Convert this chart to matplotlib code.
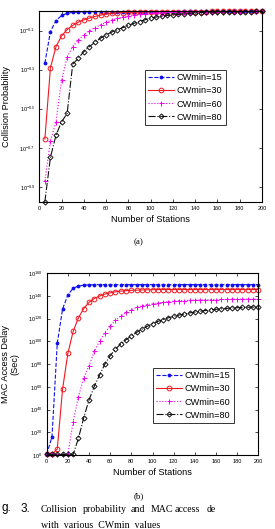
#imports all required libs
import numpy as np
import matplotlib
matplotlib.use('Agg')
import matplotlib.pyplot as plt
from matplotlib.ticker import FixedLocator, NullLocator, FixedFormatter

plt.rcParams['font.family'] = ['Liberation Sans', 'DejaVu Sans']
plt.rcParams['mathtext.fontset'] = 'custom'
plt.rcParams['mathtext.rm'] = 'Liberation Sans'
plt.rcParams['mathtext.it'] = 'Liberation Sans'

#data for (a): exponents, x = 5..200
stations_a = np.arange(5, 201, 5)
cw15_a = [-0.267, -0.105, -0.049, -0.023, -0.012, -0.007, -0.005, -0.004, -0.004, -0.003,
          -0.003, -0.003, -0.003, -0.003, -0.003, -0.003, -0.003, -0.003, -0.003, -0.003,
          -0.003, -0.003, -0.003, -0.003, -0.003, -0.002, -0.002, -0.002, -0.002, -0.002,
          -0.002, -0.002, -0.002, -0.002, -0.002, -0.002, -0.002, -0.002, -0.002, -0.002]
cw30_a = [-0.655, -0.290, -0.182, -0.128, -0.095, -0.074, -0.057, -0.045, -0.036, -0.028,
          -0.021, -0.016, -0.012, -0.010, -0.008, -0.007, -0.006, -0.005, -0.005, -0.004,
          -0.004, -0.004, -0.004, -0.003, -0.003, -0.003, -0.003, -0.003, -0.003, -0.003,
          -0.002, -0.002, -0.002, -0.002, -0.002, -0.002, -0.002, -0.002, -0.002, -0.002]
cw60_a = [-0.871, -0.664, -0.567, -0.355, -0.236, -0.182, -0.150, -0.122, -0.102, -0.085,
          -0.071, -0.058, -0.047, -0.038, -0.030, -0.024, -0.019, -0.016, -0.013, -0.011,
          -0.009, -0.008, -0.007, -0.006, -0.005, -0.005, -0.004, -0.004, -0.003, -0.003,
          -0.003, -0.003, -0.003, -0.002, -0.002, -0.002, -0.002, -0.002, -0.002, -0.002]
cw80_a = [-0.975, -0.749, -0.635, -0.567, -0.524, -0.272, -0.242, -0.208, -0.182, -0.160,
          -0.139, -0.122, -0.108, -0.096, -0.085, -0.074, -0.063, -0.054, -0.045, -0.036,
          -0.031, -0.027, -0.023, -0.020, -0.017, -0.014, -0.012, -0.010, -0.008, -0.007,
          -0.006, -0.005, -0.005, -0.004, -0.004, -0.003, -0.003, -0.003, -0.002, -0.002]

#data for (b): exponents of the delay, x = 0..200
stations_b = np.arange(0, 201, 5)
cw15_b = [0.5, 16.0, 98.5, 128.5, 141.0, 146.8, 148.8, 149.5, 149.8] + [150.0] * 32
cw30_b = [0.5, 0.5, 5.3, 58.0, 89.5, 108.8, 120.8, 129.0, 134.4, 137.8,
          140.0, 141.7, 142.8, 143.7, 144.3, 144.7, 145.0, 145.2, 145.4, 145.5,
          145.6] + [145.7] * 20
cw60_b = [0.5, 0.5, 0.5, 0.5, 0.5, 29.3, 51.3, 68.0, 78.5, 91.3,
          100.3, 107.8, 113.6, 118.5, 122.4, 125.5, 128.0, 129.9, 131.3, 132.4,
          133.2, 133.9, 134.5, 135.0, 135.4, 135.7, 136.0, 136.2, 136.4, 136.6,
          136.7, 136.8, 136.9, 137.0, 137.0, 137.1, 137.1, 137.2, 137.2, 137.2, 137.2]
cw80_b = [0.5, 0.5, 0.5, 0.5, 0.5, 0.5, 14.7, 32.9, 48.5, 60.5,
          70.5, 80.0, 87.5, 93.2, 97.8, 101.5, 104.9, 107.9, 110.7, 113.3,
          115.6, 117.6, 119.3, 120.8, 122.1, 123.2, 124.2, 125.1, 125.9, 126.6,
          127.2, 127.8, 128.3, 128.7, 129.1, 129.4, 129.7, 129.9, 130.1, 130.2, 130.3]

labels = ['CWmin=15', 'CWmin=30', 'CWmin=60', 'CWmin=80']
ticks_a = [-0.9, -0.7, -0.5, -0.3, -0.1]
ticks_b = [0, 20, 40, 60, 80, 100, 120, 140, 160]

W, H = 275, 529
fig = plt.figure(figsize=(W / 100, H / 100), dpi=100)

def ax_rect(x0, y0, x1, y1):
    # pixel box (top-left origin) -> figure fraction
    return [x0 / W, 1 - y1 / H, (x1 - x0) / W, (y1 - y0) / H]

styles = [dict(color='#1010f0', ls='--', marker='.', ms=3.5),
          dict(color='#f01820', ls='-', marker='o', ms=3.4, mfc='none', mew=0.7),
          dict(color='#f000f0', ls=':', marker='+', ms=3.6, mew=0.7),
          dict(color='#111111', ls='-.', marker='D', ms=2.6, mfc='none', mew=0.7)]

def style_axes(ax):
    ax.tick_params(which='both', direction='in', top=True, right=True,
                   length=2.2, width=0.5, labelsize=4.0, pad=3)
    for s in ax.spines.values():
        s.set_linewidth(0.8)
    ax.set_xlim(0, 200)
    ax.set_xticks(np.arange(0, 201, 20))

#graph (a)
ax1 = fig.add_axes(ax_rect(39.3, 11, 262, 202))
for ys, lab, st in zip([cw15_a, cw30_a, cw60_a, cw80_a], labels, styles):
    ax1.plot(stations_a, 10 ** np.array(ys), lw=0.8, label=lab, clip_on=False, **st)
ax1.set_yscale('log')
ax1.set_ylim(10 ** -0.977, 1.0)
ax1.yaxis.set_major_locator(FixedLocator([10 ** t for t in ticks_a]))
ax1.yaxis.set_major_formatter(FixedFormatter(['$10^{%g}$' % t for t in ticks_a]))
ax1.yaxis.set_minor_locator(NullLocator())
style_axes(ax1)
ax1.set_xlabel('Number of Stations', fontsize=6.6, labelpad=3)
ax1.set_ylabel('Collision Probability', fontsize=6.6, labelpad=6)
leg1 = ax1.legend(loc='upper left', bbox_to_anchor=(0.452, 0.717), fontsize=6.6,
                  handlelength=2.8, labelspacing=0.45, borderpad=0.4,
                  handletextpad=0.3, frameon=True, fancybox=False, edgecolor='black')
leg1.get_frame().set_linewidth(0.7)

#graph (b)
ax2 = fig.add_axes(ax_rect(46.7, 273.3, 258.3, 455))
for ys, lab, st in zip([cw15_b, cw30_b, cw60_b, cw80_b], labels, styles):
    ax2.plot(stations_b, 10 ** np.array(ys), lw=0.8, label=lab, clip_on=False, **st)
ax2.set_yscale('log')
ax2.set_ylim(1.0, 1e160)
ax2.yaxis.set_major_locator(FixedLocator([10.0 ** t for t in ticks_b]))
ax2.yaxis.set_major_formatter(FixedFormatter(['$10^{%d}$' % t for t in ticks_b]))
ax2.yaxis.set_minor_locator(NullLocator())
style_axes(ax2)
ax2.set_xlabel('Number of Stations', fontsize=6.6, labelpad=3)
ax2.set_ylabel('MAC Access Delay\n(Sec)', fontsize=6.6, labelpad=6, linespacing=1.1)
leg2 = ax2.legend(loc='upper left', bbox_to_anchor=(0.479, 0.506), fontsize=6.6,
                  handlelength=2.8, labelspacing=0.45, borderpad=0.4,
                  handletextpad=0.3, frameon=True, fancybox=False, edgecolor='black')
leg2.get_frame().set_linewidth(0.7)

#captions (the reference is a crop, so only the visible bits are written)
serif = ['Liberation Serif', 'DejaVu Serif']
fig.text(139 / W, 1 - 242 / H, '(a)', ha='center', va='center', fontsize=6.5, family=serif)
fig.text(139 / W, 1 - 496 / H, '(b)', ha='center', va='center', fontsize=6.5, family=serif)
fig.text(1 / W, 1 - 511.5 / H, 'g.', ha='left', va='baseline', fontsize=8.5)
fig.text(21 / W, 1 - 511.5 / H, '3.', ha='left', va='baseline', fontsize=8.5)
words = ['Collision', 'probability', 'and', 'MAC', 'access', 'de']
word_x = [40.7, 82.7, 131, 150.7, 175, 206.7]
for w, x in zip(words, word_x):
    fig.text(x / W, 1 - 511.5 / H, w, ha='left', va='baseline', fontsize=7.1, family=serif)
fig.text(40.7 / W, 1 - 520.5 / H, 'with  various  CWmin  values', ha='left', va='top',
         fontsize=7.1, family=serif)

fig.savefig('out.png', dpi=100)
